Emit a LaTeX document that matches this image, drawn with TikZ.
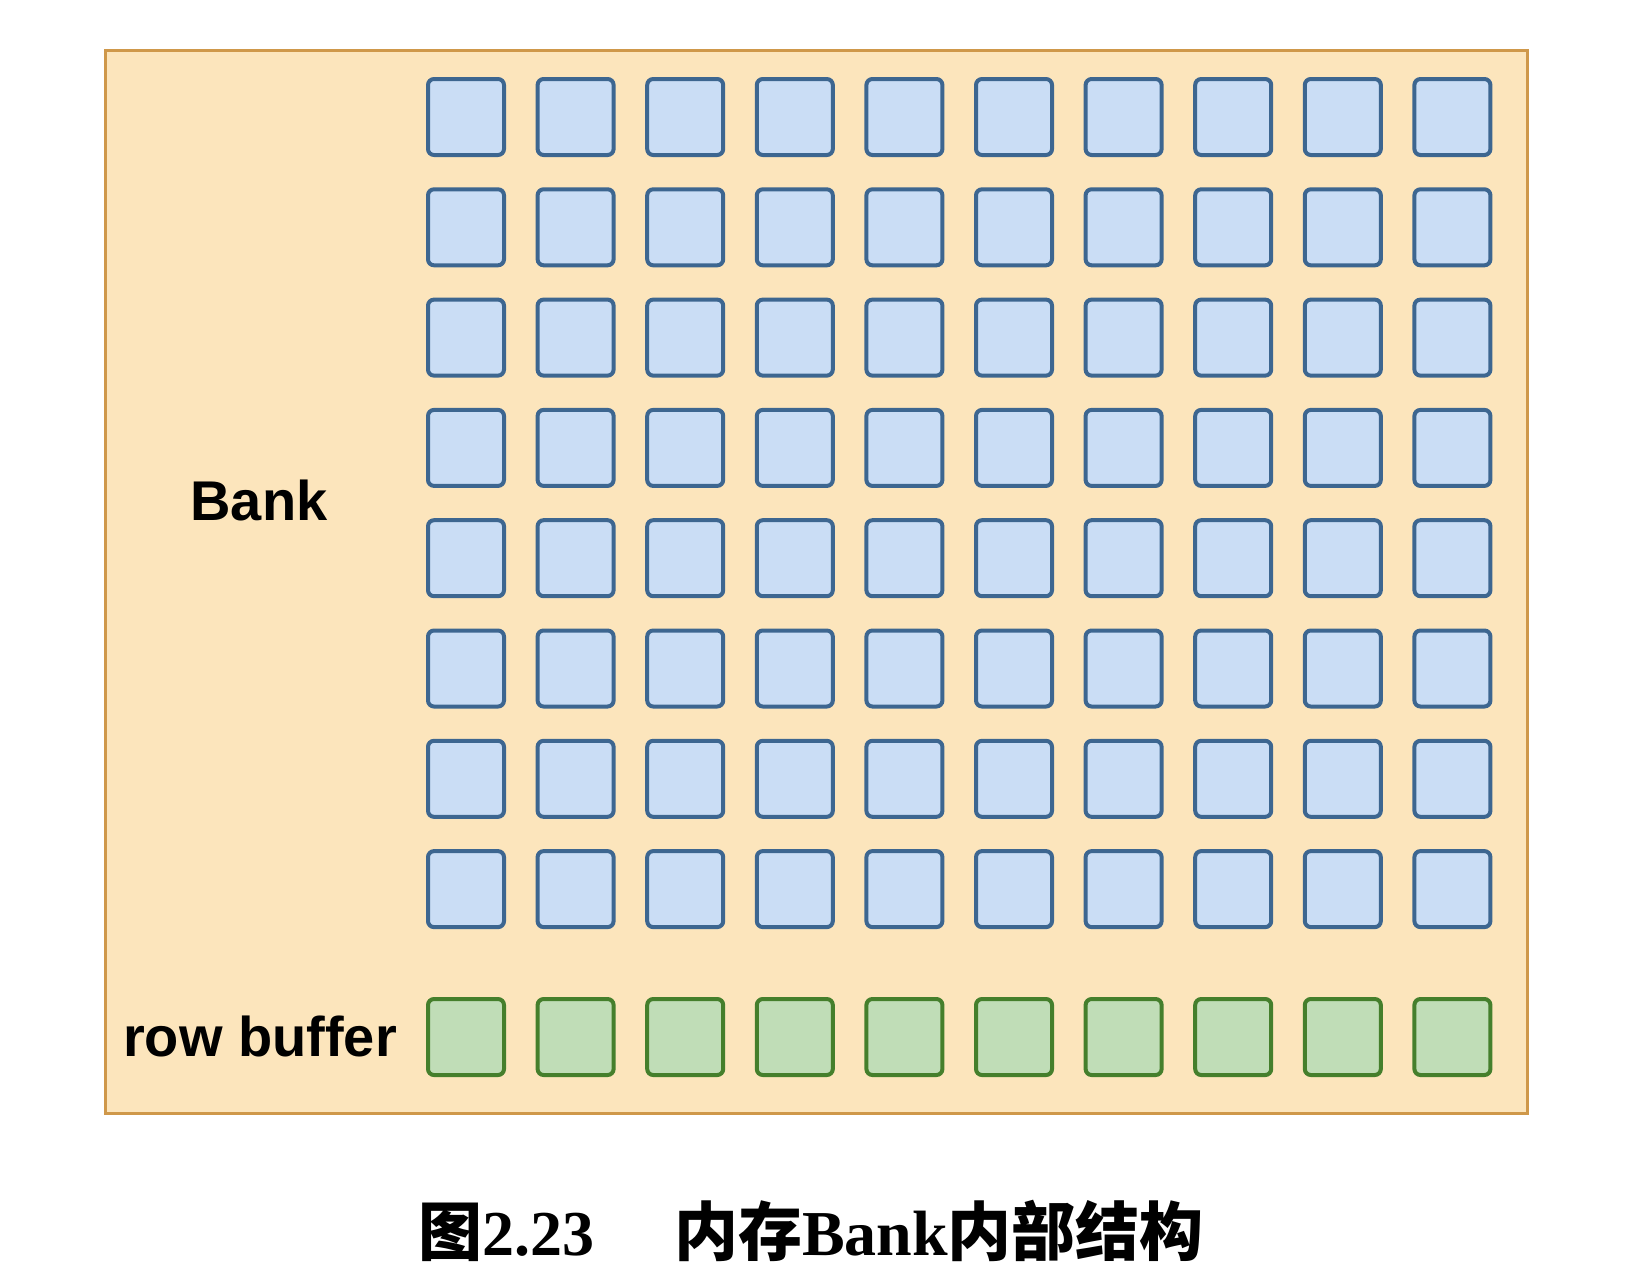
\documentclass[tikz,border=0pt]{standalone}
\usepackage{fontspec}
\setmainfont{Liberation Serif}
\newfontfamily\lsans{Liberation Sans}
\newfontfamily\cjk{Noto Sans CJK SC}
\definecolor{cream}{HTML}{FCE5BC}
\definecolor{framec}{HTML}{CF984A}
\definecolor{bluefill}{HTML}{CADDF5}
\definecolor{bluedraw}{HTML}{3D6690}
\definecolor{greenfill}{HTML}{C0DDB7}
\definecolor{greendraw}{HTML}{457F2C}
\tikzset{
  bankframe/.style={fill=cream, draw=framec, line width=1.5pt},
  cell/.style={draw=bluedraw, fill=bluefill, line width=2pt, rounded corners=3pt,
    minimum size=38pt, inner sep=0pt},
  gcell/.style={draw=greendraw, fill=greenfill, line width=2pt, rounded corners=3pt,
    minimum size=38pt, inner sep=0pt},
  lbl/.style={font=\lsans\bfseries\fontsize{28}{30}\selectfont, inner sep=0pt},
  caption/.style={font=\fontsize{32}{36}\selectfont, inner sep=0pt}
}
\begin{document}
\begin{tikzpicture}[x=0.5pt,y=-0.5pt]
\useasboundingbox[fill=white] (0,0) rectangle (1625,1280);
\draw[bankframe] (105,50) rectangle (1527,1113);
\foreach \c in {1,...,10}{
  \foreach \r in {1,...,8}{
    \node[cell] (b-\r-\c) at ({466+(\c-1)*109.6},{117+(\r-1)*110.3}) {};
  }
  \node[gcell] (g-\c) at ({466+(\c-1)*109.6},1037) {};
}
\node[lbl] (banklbl) at (259,500) {Bank};
\node[lbl] (rowlbl) at (260,1036) {row buffer};
\node[caption] (cap) at (811,1231) {{\cjk\bfseries 图}\textbf{2.23}\hspace{40pt}{\cjk\bfseries 内存}\textbf{Bank}{\cjk\bfseries 内部结构}};
\end{tikzpicture}
\end{document}
